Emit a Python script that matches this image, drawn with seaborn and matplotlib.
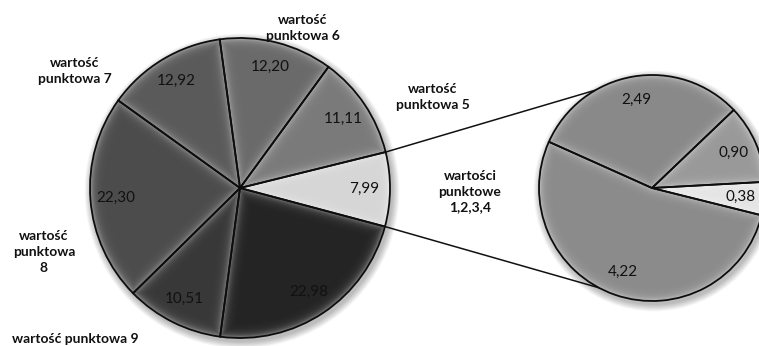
import numpy as np
import matplotlib
matplotlib.use("Agg")
import matplotlib.pyplot as plt
from matplotlib.patches import Wedge
import seaborn as sns

# Main pie: share of each score value (%), counter-clockwise from the grouped slice
main_values = [7.99, 11.11, 12.20, 12.92, 22.30, 10.51, 22.98]
main_colors = ["#d6d6d6", "#7a7a7a", "#6a6a6a", "#5a5a5a", "#4c4c4c", "#383838", "#242424"]

# Secondary pie: breakdown of the grouped slice (score values 1-4)
sub_values = [0.38, 0.90, 2.49, 4.22]
sub_colors = ["#e4e4e4", "#999999", "#898989", "#8b8b8b"]

# Category names placed around the main pie
names = ["wartości\npunktowe\n1,2,3,4", "wartość\npunktowa 5", "wartość\npunktowa 6",
         "wartość\npunktowa 7", "wartość\npunktowa\n8", "wartość punktowa 9"]
name_xy = [(470, 154), (433, 249), (303, 318), (75, 275), (44, 94), (75, 7)]

sns.set_theme(style="white")
plt.rcParams["font.family"] = ["Lato", "DejaVu Sans"]

W, H = 759, 346
fig = plt.figure(figsize=(W / 100, H / 100), dpi=100)
ax = fig.add_axes([0, 0, 1, 1])

main_c, main_r = (240, 158), 150
sub_c, sub_r = (652, 158), 113


def fmt(v):
    return f"{v:.2f}".replace(".", ",")


def pct_to_label(values):
    total = sum(values)
    return lambda p: fmt(p * total / 100.0)


def soft_shadow(center, r):
    for k in range(8):
        circ = plt.Circle((center[0] + 2, center[1] - 3), r + 1 + k * 0.9,
                          color="#000000", alpha=0.035, lw=0, zorder=0)
        ax.add_patch(circ)


def bevel(wedge, strength=0.42, width=3.5):
    cx, cy = wedge.center
    r = wedge.r
    n = int(2 * r) + 1
    xs = np.linspace(cx - r, cx + r, n)
    ys = np.linspace(cy - r, cy + r, n)
    X, Y = np.meshgrid(xs, ys)
    dx, dy = X - cx, Y - cy
    rho = np.hypot(dx, dy)
    dists = [r - rho]
    for t in (wedge.theta1, wedge.theta2):
        ux, uy = np.cos(np.radians(t)), np.sin(np.radians(t))
        proj = dx * ux + dy * uy
        perp = np.abs(dx * uy - dy * ux)
        dists.append(np.where(proj > 0, perp, rho))
    d = np.minimum.reduce(dists)
    img = np.ones((n, n, 4))
    img[..., 3] = strength * np.exp(-np.clip(d, 0, None) / width)
    im = ax.imshow(img, extent=(cx - r, cx + r, cy - r, cy + r), origin="lower",
                   interpolation="bilinear", zorder=2)
    im.set_clip_path(wedge)


soft_shadow(main_c, main_r)
soft_shadow(sub_c, sub_r)

wedges_main, _, auto_main = ax.pie(
    main_values, colors=main_colors, startangle=-14.9, counterclock=True,
    center=main_c, radius=main_r, autopct=pct_to_label(main_values), pctdistance=0.83,
    wedgeprops=dict(linewidth=0), frame=True,
    textprops=dict(fontsize=11, color="#111111"))

wedges_sub, _, auto_sub = ax.pie(
    sub_values, colors=sub_colors, startangle=-14, counterclock=True,
    center=sub_c, radius=sub_r, autopct=pct_to_label(sub_values), pctdistance=0.79,
    wedgeprops=dict(linewidth=0), frame=True,
    textprops=dict(fontsize=11, color="#111111"))

for w in wedges_main + wedges_sub:
    w.set_zorder(1)
    bevel(w)
    # dark outline drawn above the shading
    ax.add_patch(Wedge(w.center, w.r, w.theta1, w.theta2, fill=False,
                       edgecolor="#0d0d0d", linewidth=1.3, zorder=3))
for t in auto_main + auto_sub:
    t.set_zorder(4)

# Connector lines from the grouped slice to the secondary pie
g = wedges_main[0]
for t_main, t_sub in ((g.theta2, 120.0), (g.theta1, -118.0)):
    p0 = (main_c[0] + main_r * np.cos(np.radians(t_main)),
          main_c[1] + main_r * np.sin(np.radians(t_main)))
    p1 = (sub_c[0] + sub_r * np.cos(np.radians(t_sub)),
          sub_c[1] + sub_r * np.sin(np.radians(t_sub)))
    ax.plot([p0[0], p1[0]], [p0[1], p1[1]], color="#111111", lw=1.1, zorder=3)

for name, (x, y) in zip(names, name_xy):
    ax.text(x, y, name, ha="center", va="center", fontsize=10, fontweight="bold",
            color="#111111", linespacing=1.35, zorder=4)

ax.set_xlim(0, W)
ax.set_ylim(0, H)
ax.set_aspect("equal")
ax.axis("off")

fig.savefig("out.png", dpi=100, facecolor="white")
